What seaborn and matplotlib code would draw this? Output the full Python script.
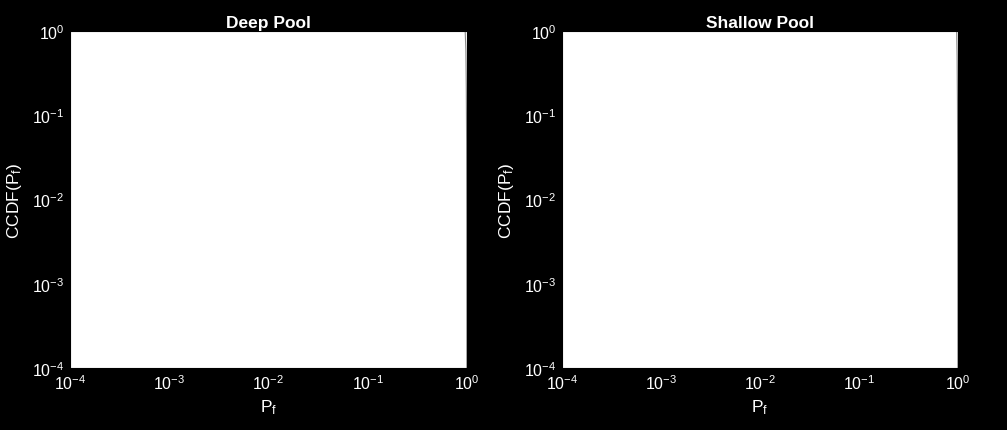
import numpy as np
import pandas as pd
import matplotlib
matplotlib.use("Agg")
import matplotlib.pyplot as plt
import seaborn as sns

titles = ["Deep Pool", "Shallow Pool"]
# CCDF curves; both drop off right at Pf ~ 1
deep_pf = [0.96, 0.975, 0.985, 0.992, 0.996, 0.999]
deep_ccdf = [1.0, 0.6, 0.2, 0.05, 0.005, 1e-4]
shallow_pf = [0.97, 0.98, 0.988, 0.994, 0.997, 0.9995]
shallow_ccdf = [1.0, 0.5, 0.15, 0.03, 0.003, 1e-4]
ticks = [1e-4, 1e-3, 1e-2, 1e-1, 1e0]

sns.set_style("white")
plt.rcParams['font.family'] = ['Liberation Sans', 'DejaVu Sans']
plt.rcParams['mathtext.fontset'] = 'custom'
plt.rcParams['mathtext.rm'] = 'Liberation Sans'
plt.rcParams['mathtext.it'] = 'Liberation Sans'
plt.rcParams['axes.unicode_minus'] = False

fig = plt.figure(figsize=(10.07, 4.31), dpi=100, facecolor='black')
pos = [[0.0695, 0.1439, 0.3942, 0.7819], [0.5581, 0.1439, 0.3932, 0.7819]]
data = [(deep_pf, deep_ccdf), (shallow_pf, shallow_ccdf)]

for i in range(2):
    ax = fig.add_axes(pos[i])
    ax.set_facecolor('white')
    df = pd.DataFrame({'Pf': data[i][0], 'CCDF': data[i][1]})
    sns.lineplot(data=df, x='Pf', y='CCDF', ax=ax, color='#888888', linewidth=0.8)
    ax.set_xscale('log')
    ax.set_yscale('log')
    ax.set_xlim(1e-4, 1)
    ax.set_ylim(1e-4, 1)
    ax.set_xticks(ticks)
    ax.set_yticks(ticks)
    ax.minorticks_off()
    ax.tick_params(colors='white', labelsize=11.5, length=0, pad=4)
    for s in ax.spines.values():
        s.set_color('black')
    ax.set_title(titles[i], color='white', fontsize=12.5, fontweight='bold', pad=3)
    ax.set_xlabel(r'P$_\mathregular{f}$', color='white', fontsize=12.5, labelpad=4)
    ax.set_ylabel(r'CCDF(P$_\mathregular{f}$)', color='white', fontsize=12.5, labelpad=6)

fig.savefig('out.png', dpi=100, facecolor='black')
